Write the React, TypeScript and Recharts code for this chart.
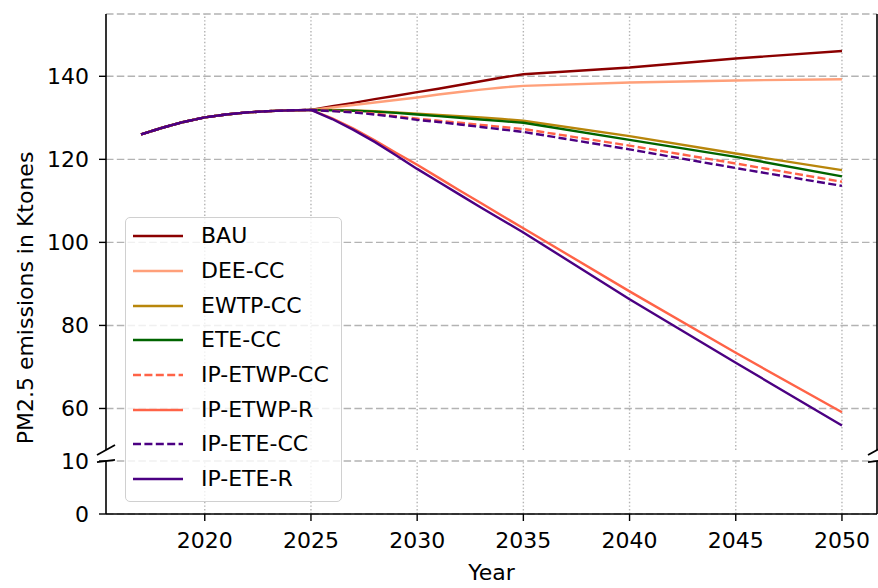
import React from 'react';
import { LineChart, Line, XAxis, YAxis, CartesianGrid, ReferenceLine, Legend } from 'recharts';

// ---------- data ----------
const years = [2017, 2018, 2019, 2020, 2021, 2022, 2023, 2024, 2025, 2026, 2027, 2028, 2029, 2030, 2031, 2032, 2033, 2034, 2035, 2040, 2045, 2050];
const common = [126.0, 127.6, 129.0, 130.1, 130.8, 131.3, 131.6, 131.8, 131.9];

const bau = [...common, 132.8, 133.6, 134.5, 135.3, 136.2, 137.0, 137.9, 138.8, 139.7, 140.5, 142.1, 144.3, 146.1];
const deeCC = [...common, 132.5, 133.1, 133.7, 134.3, 134.9, 135.6, 136.2, 136.8, 137.3, 137.7, 138.5, 139.0, 139.3];
const ewtpCC = [...common, 131.9, 131.8, 131.6, 131.3, 131.0, 130.7, 130.4, 130.1, 129.7, 129.3, 125.6, 121.4, 117.4];
const eteCC = [...common, 131.8, 131.7, 131.5, 131.2, 130.8, 130.4, 130.0, 129.6, 129.2, 128.8, 124.7, 120.6, 115.9];
const ipEtwpCC = [...common, 131.7, 131.4, 131.0, 130.4, 129.8, 129.3, 128.8, 128.3, 127.8, 127.3, 123.3, 119.0, 114.6];
const ipEtwpR = [...common, 129.9, 127.4, 124.6, 121.6, 118.7, 115.6, 112.5, 109.5, 106.4, 103.4, 88.2, 73.4, 59.1];
const ipEteCC = [...common, 131.6, 131.3, 130.8, 130.2, 129.5, 129.0, 128.4, 127.8, 127.2, 126.6, 122.4, 117.9, 113.6];
const ipEteR = [...common, 129.7, 127.1, 124.2, 121.0, 117.7, 114.6, 111.5, 108.4, 105.4, 102.4, 86.3, 71.0, 55.9];

const xTicks = [2020, 2025, 2030, 2035, 2040, 2045, 2050];
const yTickValues = [0, 10, 60, 80, 100, 120, 140];
const yTickLabels = ['0', '10', '60', '80', '100', '120', '140'];

const series = [
  { key: 'BAU', values: bau, color: '#8b0000', dashed: false },
  { key: 'DEE-CC', values: deeCC, color: '#ffa07a', dashed: false },
  { key: 'EWTP-CC', values: ewtpCC, color: '#b8860b', dashed: false },
  { key: 'ETE-CC', values: eteCC, color: '#006400', dashed: false },
  { key: 'IP-ETWP-CC', values: ipEtwpCC, color: '#ff6347', dashed: true },
  { key: 'IP-ETWP-R', values: ipEtwpR, color: '#ff6347', dashed: false },
  { key: 'IP-ETE-CC', values: ipEteCC, color: '#4b0082', dashed: true },
  { key: 'IP-ETE-R', values: ipEteR, color: '#4b0082', dashed: false },
];

// ---------- broken-axis scale ----------
const W = 878;
const H = 588;
const PLOT_LEFT = 106;
const PLOT_TOP = 14;
const PLOT_W = 771;
const PLOT_H = 500;
const XMIN = 2015.35;
const XMAX = 2051.65;
const LOW_MAX = 10;
const UP_MIN = 50;
const UP_MAX = 155;
const D_LOW_TOP = 53; // display units (= px) of lower panel
const D_UP_BOTTOM = 64;
const D_TOP = 500;
const D = (v: number) =>
  v <= LOW_MAX ? (v / LOW_MAX) * D_LOW_TOP : D_UP_BOTTOM + ((v - UP_MIN) / (UP_MAX - UP_MIN)) * (D_TOP - D_UP_BOTTOM);

const yTicks = yTickValues.map(D);
const labelFor = (d: number) => {
  const i = yTicks.findIndex((t) => Math.abs(t - d) < 1e-6);
  return i >= 0 ? yTickLabels[i] : '';
};

const rows = years.map((year, i) => {
  const r: any = { year };
  series.forEach((s) => {
    r[s.key] = D(s.values[i]);
  });
  return r;
});

const FONT = 'DejaVu Sans, sans-serif';
const GRID = '#b3b3b3';
const xPerPx = (XMAX - XMIN) / PLOT_W;

const EmptyTick = () => <g />;

const LegendBox = () => (
  <div
    style={{
      width: 217,
      height: 285,
      boxSizing: 'border-box',
      border: '1.5px solid #d0d0d0',
      borderRadius: 5,
      background: 'rgba(255,255,255,0.8)',
      paddingTop: 1,
      fontFamily: FONT,
      fontSize: 22,
      color: '#000',
    }}
  >
    {series.map((s) => (
      <div key={s.key} style={{ display: 'flex', alignItems: 'center', height: 34.7 }}>
        <svg width={75} height={20} style={{ flex: 'none' }}>
          <line
            x1={7}
            x2={57}
            y1={10}
            y2={10}
            stroke={s.color}
            strokeWidth={2.4}
            strokeDasharray={s.dashed ? '8 3.4' : undefined}
          />
        </svg>
        <span style={{ lineHeight: '22px', whiteSpace: 'nowrap' }}>{s.key}</span>
      </div>
    ))}
  </div>
);

const YLabel = () => (
  <text
    x={25}
    y={298}
    transform="rotate(-90, 25, 298)"
    textAnchor="middle"
    dominantBaseline="central"
    fontSize={22}
    fontFamily={FONT}
    fill="#000"
  >
    PM2.5 emissions in Ktones
  </text>
);

const XLabel = () => (
  <text x={PLOT_LEFT + PLOT_W / 2} y={580} textAnchor="middle" fontSize={22} fontFamily={FONT} fill="#000">
    Year
  </text>
);

export default function App() {
  const spine = { stroke: '#000', strokeWidth: 1.6 };
  const breakMarks = [XMIN, XMAX].flatMap((x) => [
    [
      { x: x - 9 * xPerPx, y: D(UP_MIN) - 5 },
      { x: x + 9 * xPerPx, y: D(UP_MIN) + 5 },
    ],
    [
      { x: x - 9 * xPerPx, y: D(LOW_MAX) - 1.2 },
      { x: x + 9 * xPerPx, y: D(LOW_MAX) + 1.2 },
    ],
  ]);
  return (
    <div style={{ position: 'absolute', left: 0, top: 0, width: W, height: H, background: '#fff' }}>
      <LineChart
        width={W}
        height={H}
        data={rows}
        margin={{ top: PLOT_TOP, right: W - PLOT_LEFT - PLOT_W, bottom: 0, left: 0 }}
        style={{ fontFamily: FONT }}
      >
        <CartesianGrid horizontal vertical={false} stroke={GRID} strokeWidth={1.4} strokeDasharray="7.5 3.3" />
        {xTicks.flatMap((t) => [
          <ReferenceLine
            key={`vu${t}`}
            segment={[
              { x: t, y: D(UP_MIN) },
              { x: t, y: D_TOP },
            ]}
            stroke={GRID}
            strokeWidth={1.4}
            strokeDasharray="1.4 2.2"
          />,
          <ReferenceLine
            key={`vl${t}`}
            segment={[
              { x: t, y: 0 },
              { x: t, y: D(LOW_MAX) },
            ]}
            stroke={GRID}
            strokeWidth={1.4}
            strokeDasharray="1.4 2.2"
          />,
        ])}
        <XAxis
          dataKey="year"
          type="number"
          domain={[XMIN, XMAX]}
          ticks={xTicks}
          allowDataOverflow
          height={H - PLOT_TOP - PLOT_H}
          tickSize={7}
          tickMargin={11}
          tick={{ fontSize: 22, fill: '#000', fontFamily: FONT }}
          tickLine={{ stroke: '#000', strokeWidth: 1.4 }}
          axisLine={spine}
          label={<XLabel />}
        />
        <XAxis
          xAxisId="top"
          orientation="top"
          dataKey="year"
          type="number"
          domain={[XMIN, XMAX]}
          ticks={xTicks}
          allowDataOverflow
          height={0}
          tickSize={7}
          tick={EmptyTick}
          tickLine={{ stroke: '#000', strokeWidth: 1.4 }}
          axisLine={spine}
        />
        <YAxis
          type="number"
          domain={[0, D_TOP]}
          ticks={yTicks}
          allowDataOverflow
          width={PLOT_LEFT}
          tickSize={7}
          tickMargin={10}
          tickFormatter={labelFor}
          tick={{ fontSize: 22, fill: '#000', fontFamily: FONT }}
          tickLine={{ stroke: '#000', strokeWidth: 1.4 }}
          axisLine={false}
          label={<YLabel />}
        />
        {series.map((s) => (
          <Line
            key={s.key}
            type="linear"
            dataKey={s.key}
            stroke={s.color}
            strokeWidth={2.4}
            strokeDasharray={s.dashed ? '8 3.4' : undefined}
            dot={false}
            activeDot={false}
            isAnimationActive={false}
          />
        ))}
        {[XMIN, XMAX].flatMap((x) => [
          <ReferenceLine
            key={`su${x}`}
            segment={[
              { x, y: D(UP_MIN) },
              { x, y: D_TOP },
            ]}
            {...spine}
          />,
          <ReferenceLine
            key={`sl${x}`}
            segment={[
              { x, y: 0 },
              { x, y: D(LOW_MAX) },
            ]}
            {...spine}
          />,
        ])}
        {breakMarks.map((seg, i) => (
          <ReferenceLine key={`bm${i}`} segment={seg} ifOverflow="visible" stroke="#000" strokeWidth={1.8} />
        ))}
        <Legend
          content={<LegendBox />}
          layout="horizontal"
          verticalAlign="middle"
          align="center"
          wrapperStyle={{ left: 125, top: 217, width: 217, height: 285 }}
        />
      </LineChart>
    </div>
  );
}
